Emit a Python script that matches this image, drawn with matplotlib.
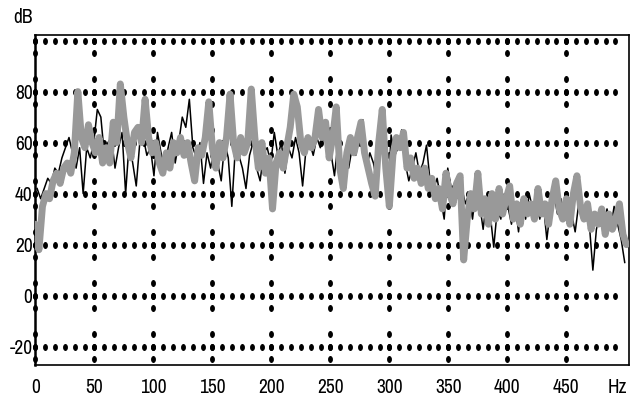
import numpy as np
import matplotlib
matplotlib.use("Agg")
import matplotlib.pyplot as plt
from matplotlib.path import Path
from matplotlib.transforms import Affine2D

plt.rcParams['font.family'] = ['Archivo Narrow', 'DejaVu Sans']

# grey spectrum, 3 Hz bins from 0 Hz
freq_grey = np.arange(0, 502, 3)
db_grey = [
    28, 18, 35, 40, 38, 45, 48, 44, 50, 52,
    48, 56, 80, 62, 58, 67, 60, 56, 62, 52,
    58, 52, 68, 60, 83, 70, 60, 54, 64, 66,
    60, 77, 62, 56, 60, 52, 48, 56, 50, 60,
    56, 62, 55, 60, 52, 45, 58, 55, 62, 76,
    58, 50, 60, 54, 62, 79, 60, 54, 62, 56,
    60, 81, 62, 50, 60, 48, 54, 34, 52, 56,
    50, 58, 66, 79, 74, 60, 56, 62, 58, 62,
    73, 62, 68, 54, 62, 74, 50, 42, 56, 62,
    56, 62, 68, 56, 50, 44, 39, 60, 73, 50,
    35, 55, 62, 58, 64, 50, 54, 46, 50, 44,
    50, 42, 46, 38, 42, 34, 48, 40, 36, 44,
    47, 14, 30, 40, 34, 48, 32, 38, 28, 40,
    30, 42, 32, 38, 43, 30, 36, 28, 38, 32,
    36, 30, 42, 32, 36, 28, 38, 45, 34, 30,
    38, 28, 40, 47, 35, 30, 36, 26, 32, 28,
    34, 24, 32, 26, 30, 36, 24, 20,
]

# black spectrum, 3 Hz bins from 1.5 Hz
freq_black = np.arange(1.5, 502, 3)
db_black = [
    42, 38, 42, 46, 44, 50, 48, 54, 58, 62,
    56, 50, 58, 40, 58, 54, 60, 73, 70, 55,
    60, 62, 50, 58, 64, 40, 60, 52, 43, 60,
    62, 55, 58, 47, 64, 56, 50, 58, 64, 52,
    60, 70, 66, 77, 58, 54, 60, 44, 56, 50,
    58, 52, 45, 60, 54, 35, 58, 55, 50, 42,
    55, 60, 50, 45, 56, 58, 52, 64, 55, 60,
    48, 58, 54, 62, 56, 43, 58, 60, 55, 62,
    58, 62, 68, 56, 47, 60, 48, 56, 50, 58,
    55, 62, 69, 50, 56, 52, 45, 58, 54, 37,
    63, 55, 58, 65, 52, 45, 50, 56, 48, 52,
    59, 45, 42, 46, 38, 30, 50, 42, 44, 38,
    42, 36, 40, 30, 42, 36, 26, 38, 32, 19,
    34, 30, 40, 35, 28, 36, 25, 38, 30, 40,
    34, 38, 30, 36, 22, 34, 40, 32, 38, 30,
    38, 32, 25, 36, 30, 35, 28, 10, 26, 32,
    28, 34, 26, 35, 28, 22, 13,
]

x_ticks = [0, 50, 100, 150, 200, 250, 300, 350, 400, 450]
y_ticks = [-20, 0, 20, 40, 60, 80]
grid_rows = [-20, 0, 20, 40, 60, 80, 100]

fig = plt.figure(figsize=(6.43, 4.17), dpi=100)
ax = fig.add_axes([0.055, 0.1247, 0.923, 0.7914])

ax.set_xlim(0, 503)
ax.set_ylim(-27.2, 102.2)

# dotted grid, drawn as small upright ovals
oval = Path.unit_circle().transformed(Affine2D().scale(0.62, 1.0))
dot = dict(ls='none', marker=oval, ms=4.0, color='black', zorder=1, clip_on=False)

row_x = np.arange(0, 495, 50 / 6)
for yv in grid_rows:
    ax.plot(row_x, np.full(len(row_x), yv), **dot)
col_y = np.array([r + d for r in grid_rows for d in (-5, 0, 5)])
col_y = col_y[(col_y >= -26) & (col_y <= 100)]
for xv in x_ticks:
    ax.plot(np.full(len(col_y), xv), col_y, **dot)

ax.plot(freq_black, db_black, color='black', lw=1.1, zorder=2)
ax.plot(freq_grey, db_grey, color='#999999', lw=5, zorder=3,
        solid_joinstyle='round', solid_capstyle='round')

ax.set_xticks(x_ticks + [493])
ax.set_xticklabels([str(v) for v in x_ticks] + ['Hz'])
ax.set_yticks(y_ticks)
ax.set_yticklabels([str(v) for v in y_ticks])
ax.tick_params(axis='x', length=0, pad=9, labelsize=14)
ax.tick_params(axis='y', length=0, pad=2, labelsize=14)

for s in ax.spines.values():
    s.set_linewidth(1.2)
ax.spines['left'].set_linewidth(1.8)

ax.text(-0.005, 1.052, 'dB', transform=ax.transAxes, ha='right', va='center',
        fontsize=14)

fig.savefig('out.png', dpi=100)
